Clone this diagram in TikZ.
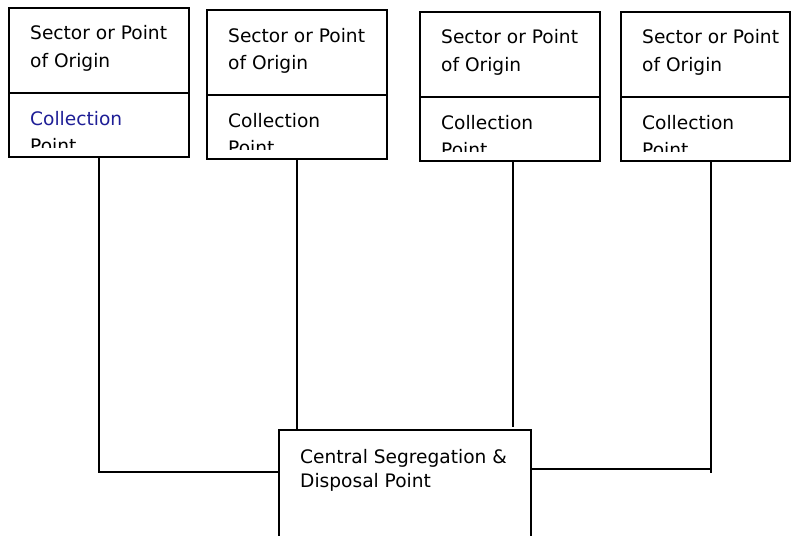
\documentclass[tikz,border=0pt]{standalone}
\usepackage{fontspec}
\setmainfont{DejaVu Sans}
\definecolor{collblue}{RGB}{30,30,150}
\tikzset{
    box/.style={draw, line width=2pt, anchor=north west, inner sep=0pt, outer sep=0pt},
    link/.style={line width=2pt},
    boxtext/.style={anchor=base west, inner sep=0pt, font=\fontsize{18.6}{27}\selectfont},
}
\begin{document}
\begin{tikzpicture}[x=1pt,y=-1pt]
    \clip (0,0) rectangle (791,535);
    % the four sector boxes
    \foreach \i/\x/\y/\w/\c in {1/9/8/180/collblue, 2/207/10/180/black, 3/420/12/180/black, 4/621/12/169/black} {
        \node[box, minimum width=\w pt, minimum height=85pt] (org\i) at (\x,\y) {};
        \node[box, minimum width=\w pt, minimum height=64pt] (coll\i) at (org\i.south west) {};
        \node[boxtext] (sec\i) at ([xshift=21pt,yshift=-32pt]org\i.north west) {Sector or Point};
        \node[boxtext] (ori\i) at ([xshift=21pt,yshift=-59pt]org\i.north west) {of Origin};
        \node[boxtext, text=\c] (col\i) at ([xshift=21pt,yshift=-32pt]coll\i.north west) {Collection};
        \begin{scope}
            \clip (coll\i.north west) rectangle ([yshift=10pt]coll\i.south east);
            \node[boxtext] (pt\i) at ([xshift=21pt,yshift=-59pt]coll\i.north west) {Point};
        \end{scope}
    }
    
    \node[box, minimum width=252pt, minimum height=120pt] (central) at (279,430) {};
    \node[boxtext] (cen1) at ([xshift=21pt,yshift=-33pt]central.north west) {Central Segregation \&};
    \node[boxtext] (cen2) at ([xshift=21pt,yshift=-57pt]central.north west) {Disposal Point};
    
    \coordinate (joinL) at (279,472);
    \coordinate (joinR) at (531,469);
    \coordinate (end3) at (513,427);
    \coordinate (end4) at (711,473);
    
    \draw [link] (coll1.south) |- (joinL);
    \draw [link] (coll2.south) -- (coll2.south |- central.north);
    \draw [link] (coll3.south -| end3) -- (end3);
    \draw [link] (coll4.south -| end4) -- (end4);
    \draw [link] (joinR) -- (joinR -| end4);
    
\end{tikzpicture}
\end{document}
